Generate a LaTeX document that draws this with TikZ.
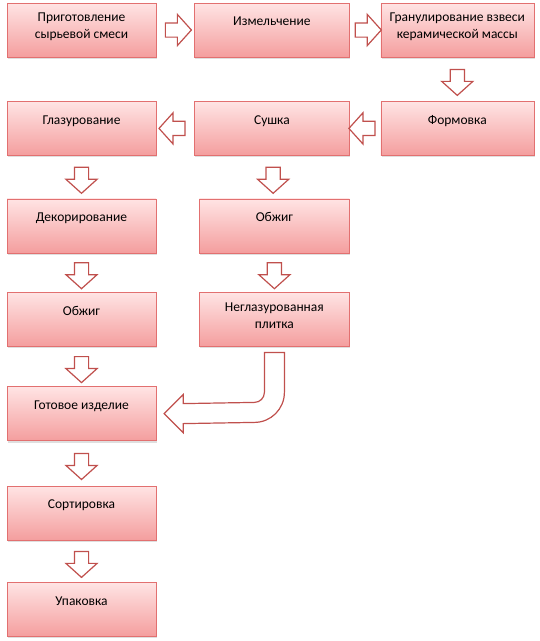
\documentclass[tikz,border=0pt]{standalone}
\usepackage{fontspec}
\setmainfont{Carlito}
\usetikzlibrary{positioning,shapes.arrows,shadows,calc}
\definecolor{boxline}{RGB}{226,112,112}
\definecolor{boxtop}{RGB}{255,228,228}
\definecolor{boxbot}{RGB}{244,158,158}
\definecolor{arrline}{RGB}{192,80,77}

\begin{document}
\begin{tikzpicture}[x=1pt,y=-1pt]
  \tikzset{
    box/.style={draw=boxline, rectangle, top color=boxtop, bottom color=boxbot, minimum width=149pt, minimum height=54pt, inner sep=0pt, align=center, font=\fontsize{13.5}{17}\selectfont, text depth=17pt, drop shadow={shadow xshift=1pt, shadow yshift=-2pt, opacity=0.25}},
    two/.style={text depth=8pt},
    blk/.style={draw=arrline, fill=white, line width=1.2pt, shape=single arrow, inner sep=6.5pt, minimum height=26pt, single arrow head extend=8.5pt, single arrow tip angle=96},
    rarr/.style={blk},
    larr/.style={blk, shape border rotate=180},
    darr/.style={blk, shape border rotate=270}
  }
  \useasboundingbox (0,0) rectangle (540,641);

  \node [box, two] (prep) at (81.5,30) {Приготовление\\сырьевой смеси};
  \node [box, minimum width=155pt, right=38pt of prep] (grind) {Измельчение};
  \node [box, two, minimum width=153pt, right=31pt of grind] (gran) {Гранулирование взвеси\\керамической массы};
  \node [box, minimum width=153pt, below=44pt of gran] (form) {Формовка};
  \node [box, minimum width=155pt, left=31pt of form] (dry) {Сушка};
  \node [box, left=38pt of dry] (glaze) {Глазурование};
  \node [box, below=43pt of glaze] (decor) {Декорирование};
  \node [box, minimum width=150pt, below=43pt of dry, xshift=2.5pt] (fire2) {Обжиг};
  \node [box, below=39pt of decor] (fire1) {Обжиг};
  \node [box, two, minimum width=150pt, below=39pt of fire2] (plain) {Неглазурованная\\плитка};
  \node [box, below=40pt of fire1] (ready) {Готовое изделие};
  \node [box, below=45pt of ready] (sort) {Сортировка};
  \node [box, below=42pt of sort] (pack) {Упаковка};

  \node [rarr] (a1) at ($(prep.east)!0.5!(grind.west)$) {};
  \node [rarr] (a2) at ($(grind.east)!0.5!(gran.west)$) {};
  \node [darr] (a3) at ($(gran.south)!0.5!(form.north)$) {};
  \node [larr] (a4) at ($(form.west)!0.5!(dry.east)$) {};
  \node [larr] (a5) at ($(dry.west)!0.5!(glaze.east)$) {};
  \node [darr] (a6) at ($(dry.south)!0.5!(fire2.north)$) {};
  \node [darr] (a7) at ($(glaze.south)!0.5!(decor.north)$) {};
  \node [darr] (a8) at ($(fire2.south)!0.5!(plain.north)$) {};
  \node [darr] (a9) at ($(decor.south)!0.5!(fire1.north)$) {};
  \node [darr] (a10) at ($(fire1.south)!0.5!(ready.north)$) {};
  \node [darr] (a11) at ($(ready.south)!0.5!(sort.north)$) {};
  \node [darr] (a12) at ($(sort.south)!0.5!(pack.north)$) {};

  % bent arrow
  \coordinate (bt) at ([yshift=-6pt]plain.south);
  \coordinate (bh) at ([xshift=8pt]ready.east);
  \draw [draw=arrline, fill=white, line width=1.2pt]
    ($(bt)+(-10,0)$) -- ($(bt)+(10,0)$) -- ($(bt)+(10,40)$)
    arc[start angle=0, end angle=90, radius=30] -- ($(bh)+(19,10)$)
    -- ($(bh)+(19,19)$) -- (bh) -- ($(bh)+(19,-19)$) -- ($(bh)+(19,-10)$)
    -- ($(bt)+(-20,50)$) arc[start angle=90, end angle=0, radius=10] -- cycle;
\end{tikzpicture}
\end{document}
